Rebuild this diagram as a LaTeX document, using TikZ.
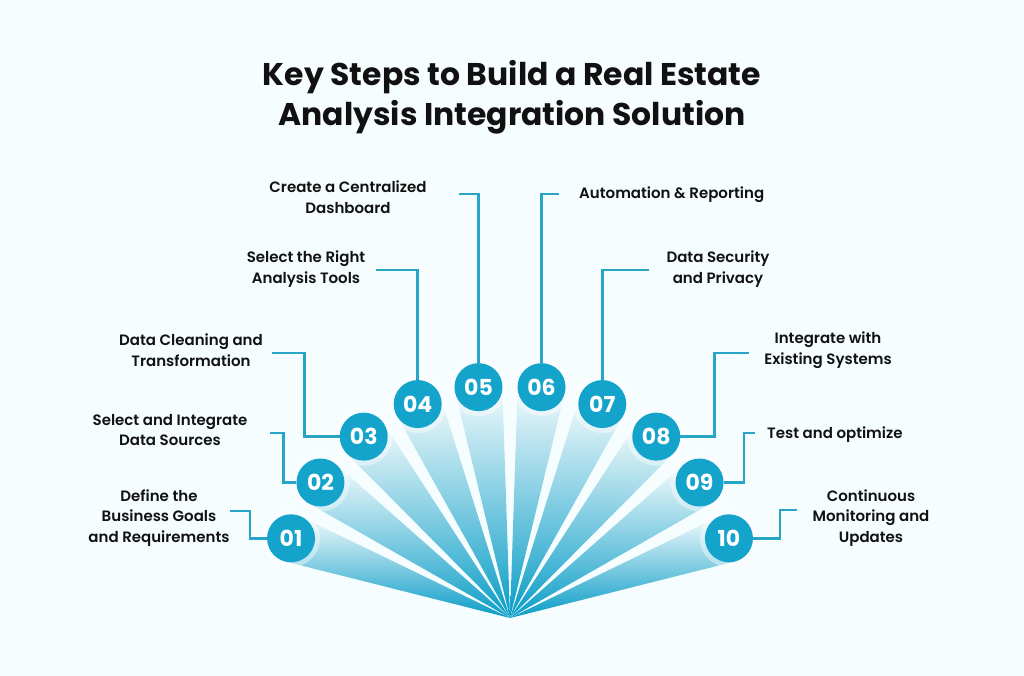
\documentclass[tikz,border=0pt]{standalone}
\usepackage{fontspec}
\setmainfont{Poppins}[BoldFont={Poppins SemiBold}]
\newfontfamily\titlefont{Poppins Bold}
\usetikzlibrary{calc}
\definecolor{bg}{RGB}{246,253,255}
\definecolor{stepblue}{RGB}{20,163,202}
\definecolor{linkblue}{RGB}{38,165,198}
\definecolor{ink}{RGB}{17,17,17}
\definecolor{raydark}{RGB}{8,156,198}
\colorlet{raymid}{raydark!60!white}
\colorlet{raytop}{raydark!4!white}
\begin{document}
\begin{tikzpicture}[x=1pt,y=1pt,
  stepcircle/.style={circle, fill=stepblue, minimum size=48pt, inner sep=0pt, text=white, font=\titlefont\fontsize{22}{22}\selectfont},
  link/.style={draw=linkblue, line width=2.5pt},
  lbl/.style={text=ink, align=center, font=\fontsize{15}{20.5}\selectfont\bfseries, inner sep=0pt},
  titlestyle/.style={text=ink, align=center, font=\titlefont\fontsize{31.4}{40}\selectfont, inner sep=0pt},
  raystyle/.style={top color=raytop, middle color=raymid, bottom color=raydark}]

\fill[bg] (0,0) rectangle (1024,676);
\useasboundingbox (0,0) rectangle (1024,676);

\coordinate (F) at (510,58);
\foreach \k in {1,...,10} {
  \coordinate (p\k) at ($(F)+({160-(\k-1)*140/9}:233)$);
}

% rays
\foreach \k in {1,...,10} {
  \shade[raystyle] (F) -- ($(p\k)!24pt!90:(F)$) -- ($(p\k)!24pt!-90:(F)$) -- cycle;
}

% soft halo behind the circles
\foreach \k in {1,...,10} {
  \fill[white, opacity=0.4] (p\k) circle (29);
}

% step circles
\foreach \k/\t in {1/01,2/02,3/03,4/04,5/05,6/06,7/07,8/08,9/09,10/10} {
  \node[stepcircle] (c\k) at (p\k) {\t};
}

% title
\node[titlestyle] (title) at (512,579) {Key Steps to Build a Real Estate\\Analysis Integration Solution};

% connector end points
\coordinate (e1) at (230,165);
\coordinate (e2) at (270,243);
\coordinate (e3) at (272,323);
\coordinate (e4) at (376,406);
\coordinate (e5) at (459,482);
\coordinate (e6) at (559,482);
\coordinate (e7) at (649,406);
\coordinate (e8) at (749,323);
\coordinate (e9) at (755,243);
\coordinate (e10) at (797,166);

% connectors
\draw[link] (c1.west) -- ++(-17,0) |- (e1);
\draw[link] (c2.west) -- ++(-13,0) |- (e2);
\draw[link] (c3.west) -- ++(-35,0) |- (e3);
\draw[link] (c4.north) |- (e4);
\draw[link] (c5.north) |- (e5);
\draw[link] (c6.north) |- (e6);
\draw[link] (c7.north) |- (e7);
\draw[link] (c8.east) -- ++(34,0) |- (e8);
\draw[link] (c9.east) -- ++(20,0) |- (e9);
\draw[link] (c10.east) -- ++(27,0) |- (e10);

% labels
\node[lbl] (l1) at (159,158) {Define the\\Business Goals\\and Requirements};
\node[lbl] (l2) at (170,246) {Select and Integrate\\Data Sources};
\node[lbl] (l3) at (191,326) {Data Cleaning and\\Transformation};
\node[lbl] (l4) at (306,407) {Select the Right\\Analysis Tools};
\node[lbl] (l5) at (348,479) {Create a Centralized\\Dashboard};
\node[lbl, anchor=west] (l6) at (579,481) {Automation \& Reporting};
\node[lbl] (l7) at (718,407) {Data Security\\and Privacy};
\node[lbl] (l8) at (828,326) {Integrate with\\Existing Systems};
\node[lbl, anchor=west] (l9) at (767,241) {Test and optimize};
\node[lbl] (l10) at (871,158) {Continuous\\Monitoring and\\Updates};
\end{tikzpicture}
\end{document}
